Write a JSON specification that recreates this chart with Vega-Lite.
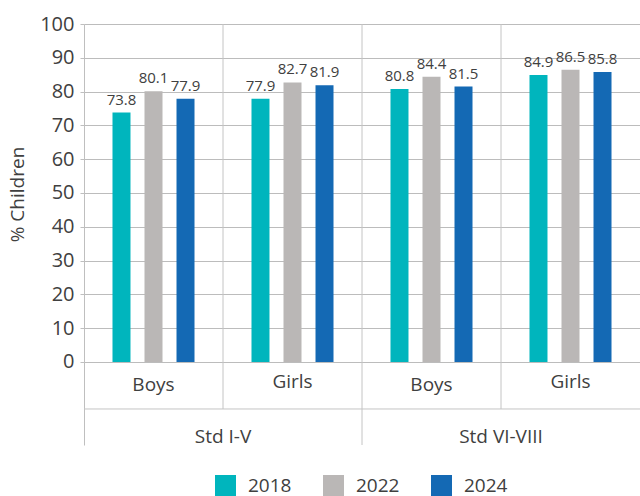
{
  "$schema": "https://vega.github.io/schema/vega-lite/v6.json",
  "autosize": {"type": "none"},
  "width": 556,
  "height": 421,
  "padding": {"left": 84, "top": 24, "right": 0, "bottom": 51},
  "background": "white",
  "config": {
    "font": "Open Sans",
    "view": {"stroke": null},
    "text": {"font": "Open Sans", "color": "#404040"}
  },
  "datasets": {
    "bars": [
      {"cat": "Std I-V|Boys", "year": "2018", "value": 73.8},
      {"cat": "Std I-V|Boys", "year": "2022", "value": 80.1},
      {"cat": "Std I-V|Boys", "year": "2024", "value": 77.9},
      {"cat": "Std I-V|Girls", "year": "2018", "value": 77.9},
      {"cat": "Std I-V|Girls", "year": "2022", "value": 82.7},
      {"cat": "Std I-V|Girls", "year": "2024", "value": 81.9},
      {"cat": "Std VI-VIII|Boys", "year": "2018", "value": 80.8},
      {"cat": "Std VI-VIII|Boys", "year": "2022", "value": 84.4},
      {"cat": "Std VI-VIII|Boys", "year": "2024", "value": 81.5},
      {"cat": "Std VI-VIII|Girls", "year": "2018", "value": 84.9},
      {"cat": "Std VI-VIII|Girls", "year": "2022", "value": 86.5},
      {"cat": "Std VI-VIII|Girls", "year": "2024", "value": 85.8}
    ],
    "seps": [
      {"cat": "Std I-V|Girls", "top": 100, "bottom": -13.9},
      {"cat": "Std VI-VIII|Boys", "top": 100, "bottom": -24.56},
      {"cat": "Std VI-VIII|Girls", "top": 100, "bottom": -13.9}
    ],
    "hline": [{"y": -13.9}],
    "genders": [
      {"cat": "Std I-V|Boys", "label": "Boys", "y": -6.8},
      {"cat": "Std I-V|Girls", "label": "Girls", "y": -6.0},
      {"cat": "Std VI-VIII|Boys", "label": "Boys", "y": -6.8},
      {"cat": "Std VI-VIII|Girls", "label": "Girls", "y": -6.0}
    ],
    "groups": [
      {"cat": "Std I-V|Boys", "label": "Std I-V", "y": -22.2},
      {"cat": "Std VI-VIII|Boys", "label": "Std VI-VIII", "y": -22.2}
    ]
  },
  "layer": [
    {
      "data": {"name": "bars"},
      "mark": {"type": "bar", "width": 18},
      "encoding": {
        "x": {
          "field": "cat", "type": "nominal",
          "sort": ["Std I-V|Boys", "Std I-V|Girls", "Std VI-VIII|Boys", "Std VI-VIII|Girls"],
          "scale": {"domain": ["Std I-V|Boys", "Std I-V|Girls", "Std VI-VIII|Boys", "Std VI-VIII|Girls"], "paddingInner": 0, "paddingOuter": 0},
          "axis": null
        },
        "xOffset": {
          "field": "year", "type": "nominal",
          "scale": {"domain": ["2018", "2022", "2024"], "paddingInner": 0.4375, "paddingOuter": 0.89}
        },
        "y": {
          "field": "value", "type": "quantitative",
          "scale": {"domain": [-24.56, 100], "nice": false, "zero": false},
          "axis": {
            "values": [0, 10, 20, 30, 40, 50, 60, 70, 80, 90, 100],
            "title": "% Children",
            "titleFontSize": 19,
            "titleFontWeight": "normal",
            "titleColor": "#404040",
            "titlePadding": 12,
            "titleY": 170,
            "labelFontSize": 20,
            "labelColor": "#404040",
            "labelPadding": 6,
            "tickSize": 4,
            "tickColor": "#bfbfbf",
            "domainColor": "#bfbfbf",
            "grid": true,
            "gridColor": "#bcbcbc",
            "gridWidth": 1
          }
        },
        "color": {
          "field": "year", "type": "nominal",
          "scale": {"domain": ["2018", "2022", "2024"], "range": ["#00B5BD", "#BAB7B6", "#1469B4"]},
          "legend": {
            "title": null,
            "orient": "none",
            "direction": "horizontal",
            "legendX": 131,
            "legendY": 451,
            "symbolType": "square",
            "symbolSize": 441,
            "symbolStrokeWidth": 0,
            "symbolOpacity": 1,
            "labelFontSize": 19,
            "labelColor": "#404040",
            "labelOffset": 12,
            "columnPadding": 31
          }
        }
      }
    },
    {
      "data": {"name": "bars"},
      "mark": {"type": "text", "baseline": "alphabetic", "dy": -8, "fontSize": 15},
      "encoding": {
        "x": {"field": "cat", "type": "nominal", "sort": ["Std I-V|Boys", "Std I-V|Girls", "Std VI-VIII|Boys", "Std VI-VIII|Girls"]},
        "xOffset": {"field": "year", "type": "nominal"},
        "y": {"field": "value", "type": "quantitative"},
        "text": {"field": "value", "type": "quantitative", "format": ".1f"}
      }
    },
    {
      "data": {"name": "seps"},
      "mark": {"type": "rule", "color": "#c4c4c4", "strokeWidth": 1},
      "encoding": {
        "x": {"field": "cat", "type": "nominal", "bandPosition": 0, "sort": ["Std I-V|Boys", "Std I-V|Girls", "Std VI-VIII|Boys", "Std VI-VIII|Girls"]},
        "y": {"field": "top", "type": "quantitative"},
        "y2": {"field": "bottom"}
      }
    },
    {
      "data": {"name": "hline"},
      "mark": {"type": "rule", "color": "#c4c4c4", "strokeWidth": 1},
      "encoding": {
        "y": {"field": "y", "type": "quantitative"}
      }
    },
    {
      "data": {"name": "genders"},
      "mark": {"type": "text", "baseline": "middle", "fontSize": 19},
      "encoding": {
        "x": {"field": "cat", "type": "nominal", "sort": ["Std I-V|Boys", "Std I-V|Girls", "Std VI-VIII|Boys", "Std VI-VIII|Girls"]},
        "y": {"field": "y", "type": "quantitative"},
        "text": {"field": "label"}
      }
    },
    {
      "data": {"name": "groups"},
      "mark": {"type": "text", "baseline": "middle", "fontSize": 19},
      "encoding": {
        "x": {"field": "cat", "type": "nominal", "bandPosition": 1, "sort": ["Std I-V|Boys", "Std I-V|Girls", "Std VI-VIII|Boys", "Std VI-VIII|Girls"]},
        "y": {"field": "y", "type": "quantitative"},
        "text": {"field": "label"}
      }
    }
  ]
}
